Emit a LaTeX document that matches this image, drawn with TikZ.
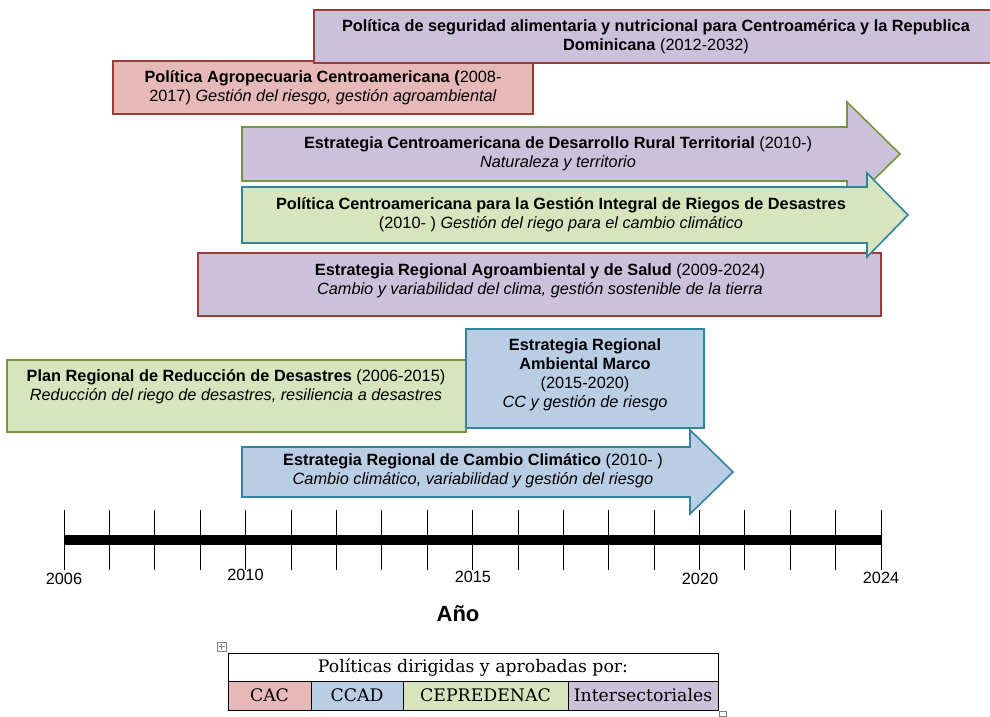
\documentclass[tikz,border=0pt]{standalone}
\usepackage{fontspec}
\setmainfont{Liberation Sans}
\newfontfamily\legendfont{DejaVu Serif}
\definecolor{purplefill}{HTML}{CCC1DA}
\definecolor{pinkfill}{HTML}{E6B9B8}
\definecolor{greenfill}{HTML}{D7E4BD}
\definecolor{bluefill}{HTML}{B9CDE5}
\definecolor{redline}{HTML}{9B3B38}
\definecolor{greenline}{HTML}{77933C}
\definecolor{tealline}{HTML}{31859C}
\begin{document}
\begin{tikzpicture}[x=1pt,y=-1pt,
  txt/.style={align=center,inner sep=0pt,font=\fontsize{16.3}{19}\selectfont},
  shape line/.style={line width=1.6pt,line join=miter},
  purplered/.style={shape line,fill=purplefill,draw=redline},
  purplegreen/.style={shape line,fill=purplefill,draw=greenline},
  pinkred/.style={shape line,fill=pinkfill,draw=redline},
  greengreen/.style={shape line,fill=greenfill,draw=greenline},
  greenteal/.style={shape line,fill=greenfill,draw=tealline},
  blueteal/.style={shape line,fill=bluefill,draw=tealline}]
  \useasboundingbox (0,0) rectangle (990,716);
  % arrow: style, left x, mid y, half body, head base x, half head, tip x
  \newcommand{\policyarrow}[7]{%
    \draw[#1] (#2,{#3-#4}) -- (#5,{#3-#4}) -- (#5,{#3-#6}) -- (#7,#3)
      -- (#5,{#3+#6}) -- (#5,{#3+#4}) -- (#2,{#3+#4}) -- cycle;
  }
  % Top boxes
  \draw[pinkred] (113,61) rectangle (533,114);
  \node[txt] (agro) at (323,88) {\textbf{Política Agropecuaria Centroamericana (}2008-\\2017) \textit{Gestión del riesgo, gestión agroambiental}};
  \draw[purplered] (314,10) rectangle (998,63);
  \node[txt] (seguridad) at (656,37) {\textbf{Política de seguridad alimentaria y nutricional para Centroamérica y la Republica}\\\textbf{Dominicana} (2012-2032)};
  % Box under the two arrows
  \draw[purplered] (198,253) rectangle (881,316);
  \node[txt] (salud) at (540,281) {\textbf{Estrategia Regional Agroambiental y de Salud} (2009-2024)\\\textit{Cambio y variabilidad del clima, gestión sostenible de la tierra}};
  % Arrows
  \policyarrow{purplegreen}{242}{154}{27}{847}{52}{900}
  \node[txt] (rural) at (558,154) {\textbf{Estrategia Centroamericana de Desarrollo Rural Territorial} (2010-)\\\textit{Naturaleza y territorio}};
  \policyarrow{greenteal}{242}{215}{28}{867}{42}{908}
  \node[txt] (desastres) at (561,215) {\textbf{Política Centroamericana para la Gestión Integral de Riegos de Desastres}\\(2010- ) \textit{Gestión del riego para el cambio climático}};
  % Middle boxes
  \draw[greengreen] (7,360) rectangle (466,432);
  \node[txt] (plan) at (236,387) {\textbf{Plan Regional de Reducción de Desastres} (2006-2015)\\\textit{Reducción del riego de desastres, resiliencia a desastres}};
  \draw[blueteal] (466,329) rectangle (704,428);
  \node[txt] (marco) at (585,375) {\textbf{Estrategia Regional}\\\textbf{Ambiental Marco}\\(2015-2020)\\\textit{CC y gestión de riesgo}};
  \policyarrow{blueteal}{242}{472}{25}{690}{42}{733}
  \node[txt] (clima) at (473,471) {\textbf{Estrategia Regional de Cambio Climático} (2010- )\\\textit{Cambio climático, variabilidad y gestión del riesgo}};
  % Time line
  \foreach \i in {0,...,18} {\draw[line width=0.8pt] ({64+\i*45.39},510) -- ++(0,60);}
  \draw[line width=10pt] (64,540) -- (881,540);
  \foreach \yr/\xx/\yy in {2006/64/579,2010/245.5/575,2015/472.9/577,2020/700/579,2024/881/578}
    {\node[txt] (y\yr) at (\xx,\yy) {\yr};}
  \node[txt,font=\fontsize{22}{26}\selectfont\bfseries] (anio) at (458,614) {Año};
  % Legend
  \draw[line width=0.8pt] (228,653) rectangle (718,681);
  \node[txt,font=\fontsize{17.3}{20}\legendfont] (leghead) at (473,667) {Políticas dirigidas y aprobadas por:};
  \foreach \a/\b/\c/\t [count=\k] in {228/311/pinkfill/CAC,311/403/bluefill/CCAD,403/568/greenfill/CEPREDENAC,568/718/purplefill/Intersectoriales}
    {\draw[line width=0.8pt,fill=\c] (\a,681) rectangle (\b,710);
     \node[txt,font=\fontsize{17.3}{20}\legendfont] (leg\k) at ({(\a+\b)/2},695) {\t};}
  % Table handles
  \draw[gray,line width=0.5pt] (217,642) rectangle (226,651);
  \draw[gray,line width=0.5pt] (218.5,646.5) -- (224.5,646.5) (221.5,643.5) -- (221.5,649.5);
  \draw[gray,line width=0.5pt] (719,711) rectangle (726,716);
\end{tikzpicture}
\end{document}
